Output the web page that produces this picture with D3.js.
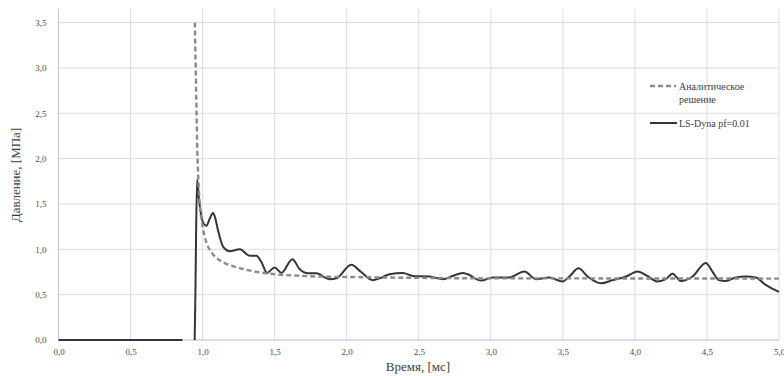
<!DOCTYPE html>
<html>
<head>
<meta charset="utf-8">
<script src="https://cdn.jsdelivr.net/npm/d3@7/dist/d3.min.js"></script>
<style>
  html, body { margin: 0; padding: 0; background: #fff; }
  svg { display: block; }
  text { font-family: "Liberation Serif", "DejaVu Serif", serif; }
</style>
</head>
<body>
<svg id="chart" width="784" height="376"></svg>
<script>
// Tick values for both axes
const xTicks = [0, 0.5, 1.0, 1.5, 2.0, 2.5, 3.0, 3.5, 4.0, 4.5, 5.0];
const yTicks = [0, 0.5, 1.0, 1.5, 2.0, 2.5, 3.0, 3.5];

// Analytical solution: time [ms], pressure [MPa]
const analyticT = [0.946, 0.952, 0.958, 0.963, 0.970, 0.980, 0.995, 1.01, 1.03, 1.06, 1.10, 1.15, 1.22, 1.30, 1.40, 1.50, 1.65, 1.80, 2.0, 2.5, 3.0, 3.5, 4.0, 4.5, 5.0];
const analyticP = [3.5, 3.0, 2.5, 2.1, 1.8, 1.5, 1.30, 1.17, 1.06, 0.97, 0.90, 0.85, 0.81, 0.775, 0.745, 0.725, 0.71, 0.70, 0.695, 0.685, 0.68, 0.68, 0.678, 0.678, 0.677];

// LS-Dyna result, pre-arrival zero segment
const dynaZeroT = [0.0, 0.86];
const dynaZeroP = [0.0, 0.0];

// LS-Dyna result after the wave arrives
const dynaT = [0.945, 0.950, 0.955, 0.962, 0.975, 0.990, 1.005, 1.027, 1.050, 1.073, 1.090, 1.107, 1.142, 1.188, 1.258, 1.327, 1.373, 1.408, 1.447, 1.50, 1.547, 1.623, 1.674, 1.731, 1.789, 1.881, 1.928, 2.032, 2.10, 2.182, 2.228, 2.297, 2.39, 2.459, 2.575, 2.667, 2.736, 2.805, 2.84, 2.933, 3.013, 3.129, 3.233, 3.314, 3.406, 3.498, 3.545, 3.609, 3.672, 3.765, 3.845, 3.938, 4.018, 4.087, 4.157, 4.215, 4.261, 4.319, 4.40, 4.492, 4.538, 4.584, 4.631, 4.70, 4.769, 4.839, 4.908, 5.0];
const dynaP = [0.0, 0.5, 1.2, 1.77, 1.55, 1.38, 1.29, 1.26, 1.34, 1.40, 1.33, 1.21, 1.03, 0.98, 1.00, 0.93, 0.93, 0.86, 0.74, 0.80, 0.74, 0.89, 0.78, 0.736, 0.736, 0.67, 0.68, 0.83, 0.75, 0.66, 0.68, 0.725, 0.74, 0.706, 0.70, 0.67, 0.706, 0.74, 0.725, 0.655, 0.69, 0.69, 0.755, 0.67, 0.69, 0.645, 0.70, 0.79, 0.70, 0.625, 0.66, 0.70, 0.755, 0.706, 0.645, 0.67, 0.73, 0.65, 0.70, 0.85, 0.755, 0.66, 0.65, 0.69, 0.70, 0.69, 0.607, 0.53];

const svg = d3.select("#chart");

const x = d3.scaleLinear().domain([0, 5]).range([58.5, 779]);
const y = d3.scaleLinear().domain([0, 3.65]).range([340, 9]);

const grid = svg.append("g");

// horizontal gridlines
grid.selectAll("line.h").data(yTicks.filter(d => d > 0)).join("line")
  .attr("x1", x(0)).attr("x2", x(5))
  .attr("y1", d => y(d)).attr("y2", d => y(d))
  .attr("stroke", "#dcdcdc").attr("stroke-width", 1);

// vertical gridlines
grid.selectAll("line.v").data(xTicks).join("line")
  .attr("x1", d => x(d)).attr("x2", d => x(d))
  .attr("y1", y(3.65)).attr("y2", y(0))
  .attr("stroke", d => d === 0 ? "#c8c8c8" : "#dcdcdc").attr("stroke-width", 1);

// base line at zero
grid.append("line")
  .attr("x1", x(0)).attr("x2", x(5))
  .attr("y1", y(0)).attr("y2", y(0))
  .attr("stroke", "#bdbdbd").attr("stroke-width", 1.2);

// Y axis labels
const yAxis = d3.axisLeft(y).tickValues(yTicks)
  .tickFormat(d => d3.format(".1f")(d).replace(".", ","))
  .tickSize(0).tickPadding(12);
svg.append("g").attr("transform", `translate(${x(0)},0)`).call(yAxis)
  .call(g => g.select(".domain").remove())
  .call(g => g.selectAll("text")
    .attr("font-size", 9).attr("fill", "#4a4a4a"));

// X axis labels
const xAxis = d3.axisBottom(x).tickValues(xTicks)
  .tickFormat(d => d3.format(".1f")(d).replace(".", ","))
  .tickSize(0).tickPadding(9);
svg.append("g").attr("transform", `translate(0,${y(0)})`).call(xAxis)
  .call(g => g.select(".domain").remove())
  .call(g => g.selectAll("text")
    .attr("font-size", 9).attr("fill", "#4a4a4a"));

// Axis titles
svg.append("text")
  .attr("transform", `translate(20,175) rotate(-90)`)
  .attr("text-anchor", "middle")
  .attr("font-size", 13).attr("fill", "#3c3c3c")
  .text("Давление, [МПа]");

svg.append("text")
  .attr("x", 418).attr("y", 371)
  .attr("text-anchor", "middle")
  .attr("font-size", 13).attr("fill", "#3c3c3c")
  .text("Время, [мс]");

const line = d3.line()
  .x(d => x(d[0])).y(d => y(d[1]))
  .curve(d3.curveMonotoneX);

const analytic = analyticT.map((t, i) => [t, analyticP[i]]);
const dynaZero = dynaZeroT.map((t, i) => [t, dynaZeroP[i]]);
const dyna = dynaT.map((t, i) => [t, dynaP[i]]);

// LS-Dyna curve
svg.append("path").datum(dynaZero)
  .attr("d", d3.line().x(d => x(d[0])).y(d => y(d[1])))
  .attr("fill", "none").attr("stroke", "#353535").attr("stroke-width", 2);

svg.append("path").datum(dyna)
  .attr("d", line)
  .attr("fill", "none").attr("stroke", "#353535").attr("stroke-width", 2)
  .attr("stroke-linejoin", "round");

// analytical curve
svg.append("path").datum(analytic)
  .attr("d", line)
  .attr("fill", "none").attr("stroke", "#8a8a8a").attr("stroke-width", 2.4)
  .attr("stroke-dasharray", "5,3");

// Legend
const legend = svg.append("g");
legend.append("line")
  .attr("x1", 650).attr("x2", 676).attr("y1", 86).attr("y2", 86)
  .attr("stroke", "#8a8a8a").attr("stroke-width", 2.4).attr("stroke-dasharray", "5,3");
legend.append("text").attr("x", 679).attr("y", 89.5)
  .attr("font-size", 10).attr("fill", "#3c3c3c").text("Аналитическое");
legend.append("text").attr("x", 679).attr("y", 102.5)
  .attr("font-size", 10).attr("fill", "#3c3c3c").text("решение");
legend.append("line")
  .attr("x1", 650).attr("x2", 677).attr("y1", 123).attr("y2", 123)
  .attr("stroke", "#353535").attr("stroke-width", 2);
legend.append("text").attr("x", 679).attr("y", 126.5)
  .attr("font-size", 10).attr("fill", "#3c3c3c").text("LS-Dyna pf=0.01");
</script>
</body>
</html>
